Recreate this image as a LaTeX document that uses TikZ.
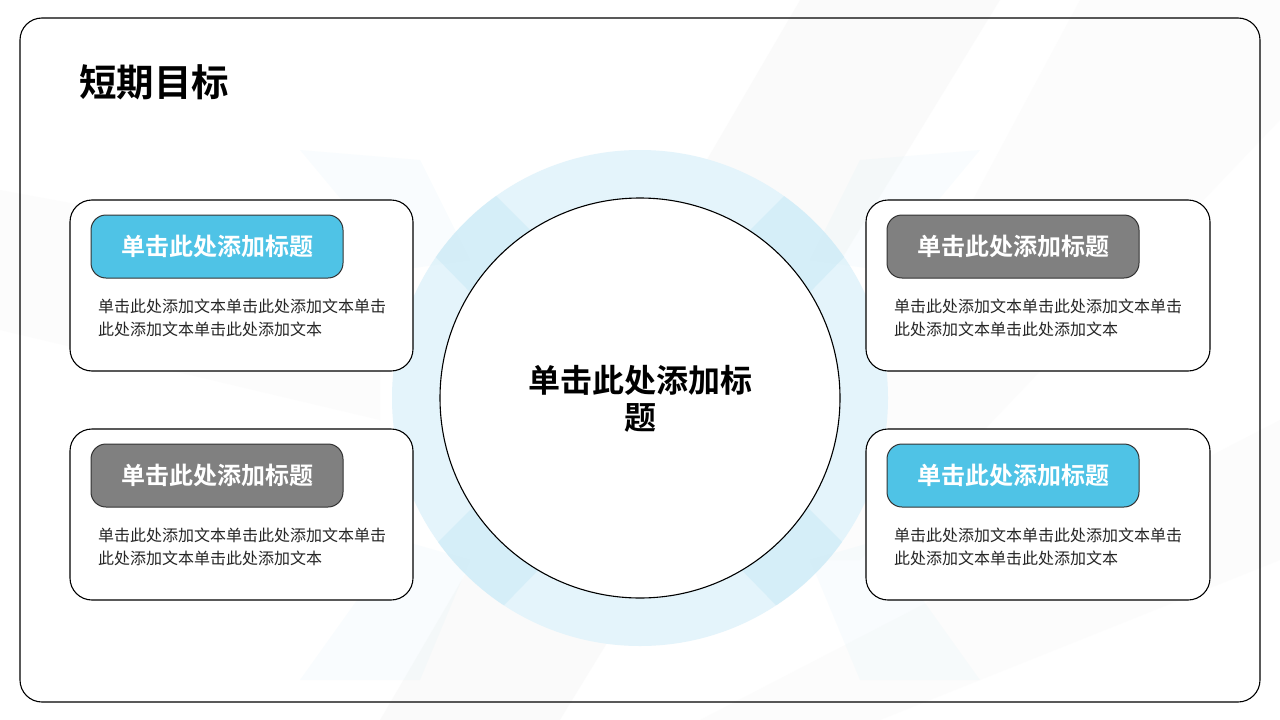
\documentclass[tikz,border=0pt]{standalone}
\usepackage{fontspec}
\setmainfont{Noto Sans CJK SC}
\newfontfamily\cjk{Noto Sans CJK SC}
\newfontfamily\cjkb{Noto Sans CJK SC Bold}
\definecolor{pillblue}{RGB}{79,195,230}
\definecolor{pillgrey}{RGB}{128,128,128}
\definecolor{ringblue}{RGB}{228,244,251}
\definecolor{bandblue}{RGB}{208,236,247}
\tikzset{
  card/.style={draw=black, line width=1.1pt, fill=white, rounded corners=22pt},
  pill/.style={draw=black!80, line width=1pt, rounded corners=15pt, minimum width=252pt, minimum height=63pt, inner sep=0pt, font=\cjkb\fontsize{24}{27}\selectfont, text=white},
  body/.style={anchor=north west, inner sep=0pt, align=left, font=\cjk\fontsize{16}{23}\selectfont, text=black!85},
}
\begin{document}
\begin{tikzpicture}[x=1pt,y=-1pt]
\useasboundingbox (0,0) rectangle (1280,720);
\fill[white] (0,0) rectangle (1280,720);
% faint grey swooshes
\fill[black!3, opacity=0.5] (800,0) -- (1000,0) -- (560,720) -- (380,720) -- cycle;
\fill[black!2, opacity=0.5] (1080,0) -- (1280,0) -- (1280,120) -- (860,560) -- (780,560) -- cycle;
\fill[black!2, opacity=0.5] (0,190) -- (380,260) -- (380,420) -- (0,330) -- cycle;
\fill[black!2, opacity=0.5] (1280,420) -- (1280,560) -- (880,720) -- (700,720) -- cycle;
% outer frame
\node[draw=black, line width=1.1pt, rounded corners=22pt, minimum width=1240pt, minimum height=684pt, inner sep=0pt] (frame) at (640,360) {};
% title
\node[anchor=west, inner sep=0pt, font=\cjkb\fontsize{37.5}{40}\selectfont] (title) at (79,82) {短期目标};
% blue ring
\coordinate (c) at (640,398);
\fill[ringblue, even odd rule] (c) circle[radius=248] (c) circle[radius=200];
\begin{scope}[even odd rule]
\clip (c) circle[radius=248] (c) circle[radius=200];
\fill[bandblue, opacity=0.7] (380,200) -- (470,170) -- (900,600) -- (810,640) -- cycle;
\fill[bandblue, opacity=0.7] (900,200) -- (810,170) -- (380,600) -- (470,640) -- cycle;
\end{scope}
\fill[bandblue, opacity=0.12] (300,150) -- (420,160) -- (470,260) -- (400,270) -- cycle;
\fill[bandblue, opacity=0.12] (980,150) -- (860,160) -- (810,260) -- (880,270) -- cycle;
\fill[bandblue, opacity=0.12] (300,680) -- (420,680) -- (470,560) -- (400,540) -- cycle;
\fill[bandblue, opacity=0.12] (980,680) -- (860,680) -- (810,560) -- (880,540) -- cycle;
% center circle
\node[circle, draw=black, line width=1.1pt, fill=white, minimum size=400pt, inner sep=0pt] (center) at (c) {};
\node[align=center, inner sep=0pt, font=\cjkb\fontsize{32}{37}\selectfont] (ctext) at (640,399) {单击此处添加标\\题};
% cards
\node[card, minimum width=343pt, minimum height=171pt, inner sep=0pt] (c1) at (241.5,285.5) {};
\node[card, minimum width=343pt, minimum height=171pt, inner sep=0pt] (c2) at (241.5,514.5) {};
\node[card, minimum width=344pt, minimum height=171pt, inner sep=0pt] (c3) at (1038,285.5) {};
\node[card, minimum width=344pt, minimum height=171pt, inner sep=0pt] (c4) at (1038,514.5) {};
% pills
\node[pill, fill=pillblue] (p1) at (217,246.5) {单击此处添加标题};
\node[pill, fill=pillgrey] (p2) at (217,475.5) {单击此处添加标题};
\node[pill, fill=pillgrey] (p3) at (1013,246.5) {单击此处添加标题};
\node[pill, fill=pillblue] (p4) at (1013,475.5) {单击此处添加标题};
% body texts
\node[body] (t1) at (98,299) {单击此处添加文本单击此处添加文本单击\\此处添加文本单击此处添加文本};
\node[body] (t2) at (98,528) {单击此处添加文本单击此处添加文本单击\\此处添加文本单击此处添加文本};
\node[body] (t3) at (894,299) {单击此处添加文本单击此处添加文本单击\\此处添加文本单击此处添加文本};
\node[body] (t4) at (894,528) {单击此处添加文本单击此处添加文本单击\\此处添加文本单击此处添加文本};
\end{tikzpicture}
\end{document}
